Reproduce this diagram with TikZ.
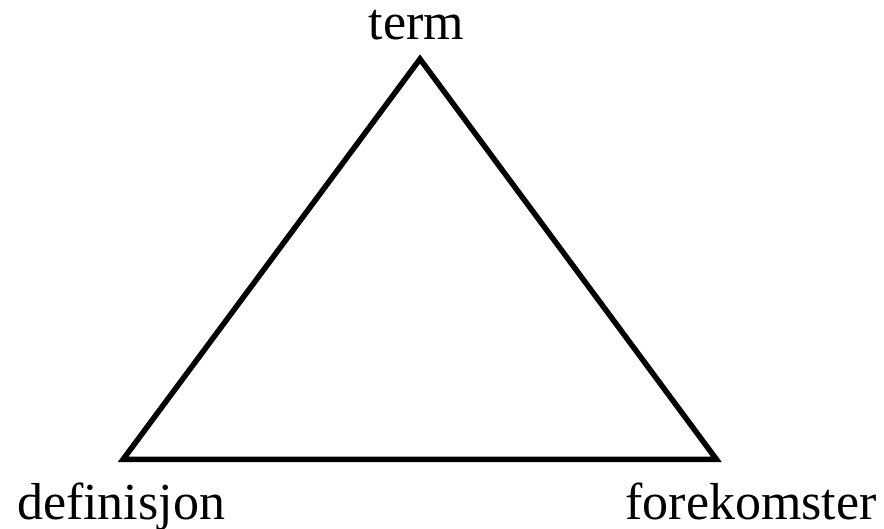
\documentclass[tikz,border=0pt]{standalone}
\usepackage{fontspec}
\setmainfont{Liberation Serif}
\usetikzlibrary{positioning}
\tikzset{
  vlabel/.style = {font=\fontsize{52}{60}\selectfont, inner sep=0pt, anchor=base},
  side/.style   = {line width=5.5pt, line join=miter}
}

\begin{document}
\begin{tikzpicture}[x=1pt, y=1pt]
        \useasboundingbox (0,0) rectangle (884,529);
        \coordinate (apex) at (420,470);
        \coordinate (bl) at (123,69.5);
        \coordinate (br) at (716.5,69.5);
        \draw[side] (apex) -- (br) -- (bl) -- cycle;
        \node[vlabel] (term) at (416.5,489) {term};
        \node[vlabel] (def) at (121,9) {definisjon};
        \node[vlabel] (fore) at (751,9) {forekomster};
      \end{tikzpicture}
\end{document}
